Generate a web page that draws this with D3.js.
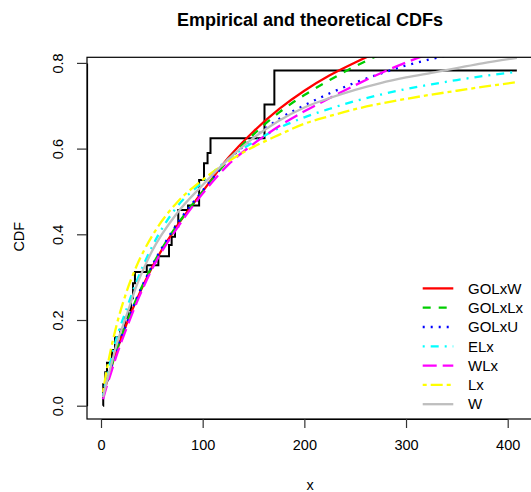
<!DOCTYPE html>
<html><head><meta charset="utf-8">
<script src="https://cdn.jsdelivr.net/npm/d3@7"></script>
<style>
body{margin:0;background:#fff}
svg{display:block}
text{font-family:"Liberation Sans",Arial,Helvetica,sans-serif;fill:#000}
</style>
</head><body>
<svg id="chart" width="531" height="492"></svg>
<script>
// ---- data ----
const xGrid = [2, 5, 10, 15, 25, 35, 50, 75, 100, 125, 150, 175, 200, 225, 250, 275, 300, 325, 350, 375, 409];
const GOLxW  = [0.022,0.049,0.089,0.125,0.190,0.247,0.322,0.420,0.500,0.578,0.640,0.692,0.735,0.771,0.801,0.828,0.850,0.870,0.887,0.901,0.918];
const GOLxLx = [0.022,0.050,0.090,0.128,0.192,0.250,0.325,0.422,0.500,0.573,0.633,0.684,0.725,0.760,0.792,0.820,0.842,0.861,0.878,0.892,0.907];
const GOLxU  = [0.020,0.048,0.088,0.128,0.190,0.250,0.325,0.425,0.502,0.572,0.625,0.669,0.701,0.729,0.754,0.775,0.794,0.809,0.822,0.834,0.848];
const ELx    = [0.025,0.060,0.110,0.155,0.225,0.290,0.370,0.465,0.522,0.575,0.615,0.648,0.673,0.693,0.711,0.726,0.739,0.750,0.760,0.769,0.779];
const WLx    = [0.015,0.040,0.078,0.115,0.180,0.240,0.318,0.415,0.495,0.562,0.611,0.652,0.687,0.718,0.748,0.776,0.801,0.823,0.842,0.859,0.878];
const Lx     = [0.032,0.075,0.135,0.185,0.265,0.326,0.395,0.475,0.527,0.570,0.604,0.632,0.658,0.676,0.692,0.705,0.716,0.726,0.735,0.744,0.755];
const W      = [0.020,0.050,0.095,0.140,0.210,0.280,0.360,0.450,0.515,0.575,0.625,0.665,0.696,0.718,0.737,0.753,0.766,0.777,0.788,0.799,0.812];

const seriesNames  = ["GOLxW","GOLxLx","GOLxU","ELx","WLx","Lx","W"];
const seriesValues = [GOLxW, GOLxLx, GOLxU, ELx, WLx, Lx, W];
const seriesColors = ["#FF0000","#00CD00","#0000FF","#00FFFF","#FF00FF","#FFFF00","#BEBEBE"];
const seriesDash   = [null, "8,8", "2,6", "2,6,8,6", "14,6", "4,4,12,4", null];

// empirical CDF: jump locations and levels
const ecdfStart = 2.0, ecdfEnd = 409;
const ecdfX = [2.2,4.2,5.9,10.8,13.8,18.7,23.6,26.6,29.5,31.5,33.4,45.0,56.4,66.9,69.5,72.8,76.0,85.6,96.5,101.3,104.8,107.7,160.8,170.5];
const ecdfP = [0.050,0.078,0.100,0.130,0.160,0.177,0.205,0.223,0.251,0.286,0.312,0.328,0.349,0.375,0.394,0.418,0.457,0.467,0.527,0.566,0.590,0.624,0.703,0.782];

const xTicks = [0,100,200,300,400];
const yTicks = [0,0.2,0.4,0.6,0.8];

// ---- layout ----
const svg = d3.select("#chart");
const box = {left:87, top:57.3, right:533, bottom:419};
const x = d3.scaleLinear().domain([0,400]).range([101,507.7]);
const y = d3.scaleLinear().domain([0,0.8]).range([405.7,62.9]);

svg.append("defs").append("clipPath").attr("id","clip")
  .append("rect").attr("x",box.left).attr("y",box.top)
  .attr("width",box.right-box.left).attr("height",box.bottom-box.top);

const plot = svg.append("g").attr("clip-path","url(#clip)");

// ECDF
const ecdfPts = [[ecdfStart,0]].concat(ecdfX.map((v,i)=>[v,ecdfP[i]])).concat([[ecdfEnd,ecdfP[ecdfP.length-1]]]);
plot.append("path")
  .attr("d", d3.line().x(d=>x(d[0])).y(d=>y(d[1])).curve(d3.curveStepAfter)(ecdfPts))
  .attr("fill","none").attr("stroke","#000").attr("stroke-width",2);

// theoretical CDFs
const line = d3.line().x(d=>x(d[0])).y(d=>y(d[1])).curve(d3.curveMonotoneX);
seriesValues.forEach((vals,i)=>{
  const p = plot.append("path")
    .attr("d", line(xGrid.map((v,j)=>[v,vals[j]])))
    .attr("fill","none").attr("stroke",seriesColors[i]).attr("stroke-width",2.3);
  if (seriesDash[i]) p.attr("stroke-dasharray",seriesDash[i]);
});

// box
svg.append("rect").attr("x",box.left).attr("y",box.top)
  .attr("width",box.right-box.left).attr("height",box.bottom-box.top)
  .attr("fill","none").attr("stroke","#000").attr("stroke-width",1.2);

// x axis
const gx = svg.append("g").attr("transform",`translate(0,${box.bottom})`)
  .call(d3.axisBottom(x).tickValues(xTicks).tickSize(9).tickSizeOuter(0).tickPadding(12).tickFormat(d3.format("d")));
gx.select(".domain").attr("stroke","#000").attr("stroke-width",1.2);
gx.selectAll(".tick line").attr("stroke","#333").attr("stroke-width",1.2);
gx.selectAll("text").style("font-size","14.5px").attr("fill","#000");

// y axis
const gy = svg.append("g").attr("transform",`translate(${box.left},0)`)
  .call(d3.axisLeft(y).tickValues(yTicks).tickSize(10).tickSizeOuter(0).tickFormat(d3.format(".1f")));
gy.select(".domain").attr("stroke","#000").attr("stroke-width",1.2);
gy.selectAll(".tick line").attr("stroke","#333").attr("stroke-width",1.2);
gy.selectAll("text")
  .attr("x",0).attr("y",-29).attr("dy","0.35em")
  .attr("transform","rotate(-90)")
  .attr("text-anchor","middle")
  .style("font-size","14.5px").attr("fill","#000");

// titles
svg.append("text").attr("x",310).attr("y",26).attr("text-anchor","middle")
  .style("font-size","18px").style("font-weight","bold").text("Empirical and theoretical CDFs");
svg.append("text").attr("x",310).attr("y",490).attr("text-anchor","middle")
  .style("font-size","14.5px").text("x");
svg.append("text").attr("transform","translate(24,236.7) rotate(-90)").attr("text-anchor","middle")
  .style("font-size","14.5px").text("CDF");

// legend
const lg = svg.append("g");
seriesNames.forEach((name,i)=>{
  const yy = 288.4 + i*19.3;
  const l = lg.append("line").attr("x1",422.7).attr("x2",453.3).attr("y1",yy).attr("y2",yy)
    .attr("stroke",seriesColors[i]).attr("stroke-width",2.3);
  if (seriesDash[i]) l.attr("stroke-dasharray",seriesDash[i]);
  lg.append("text").attr("x",468).attr("y",yy).attr("dy","0.35em")
    .style("font-size","15px").text(name);
});
</script>
</body></html>
